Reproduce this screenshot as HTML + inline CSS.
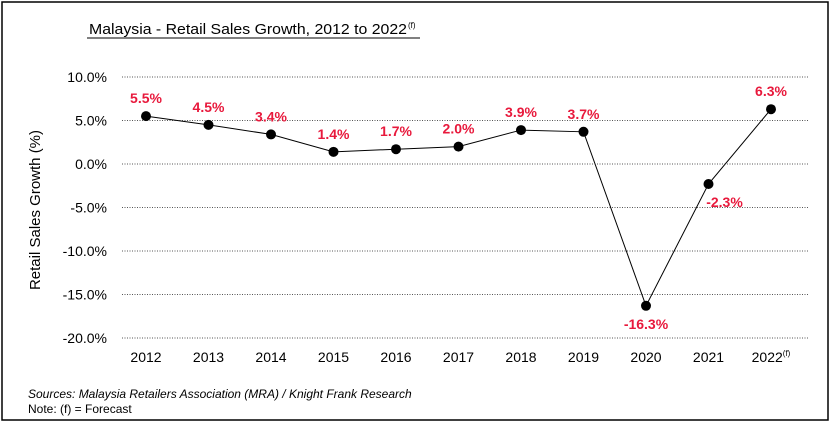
<!DOCTYPE html>
<html><head><meta charset="utf-8"><style>
body{margin:0;background:#fff;}
svg{display:block;font-family:"Liberation Sans",sans-serif;}
</style></head><body>
<svg width="836" height="424">
<rect x="2" y="2" width="826" height="418" fill="#fff" stroke="#000" stroke-width="1.5"/>
<text x="89" y="34" font-size="15" textLength="318" lengthAdjust="spacingAndGlyphs">Malaysia - Retail Sales Growth, 2012 to 2022</text>
<text x="408" y="28" font-size="8">(f)</text>
<line x1="87" y1="38" x2="420" y2="38" stroke="#000" stroke-width="1"/>
<text transform="translate(40 210) rotate(-90)" text-anchor="middle" font-size="15">Retail Sales Growth (%)</text>
<g id="grid"></g><g id="yt"></g><g id="xt"></g><g id="line"></g><g id="pts"></g><g id="lbl"></g>
<text x="28" y="398" font-size="12" font-style="italic">Sources: Malaysia Retailers Association (MRA) / Knight Frank Research</text>
<text x="28" y="413" font-size="12">Note: (f) = Forecast</text>
</svg>
<script>
const categories=["2012","2013","2014","2015","2016","2017","2018","2019","2020","2021","2022"];
const values=[5.5,4.5,3.4,1.4,1.7,2.0,3.9,3.7,-16.3,-2.3,6.3];
const yTicks=[10,5,0,-5,-10,-15,-20];
const ns="http://www.w3.org/2000/svg";
function y(v){return 164-(v)*8.7;}
function x(i){return 146+i*62.5;}
function mk(p,t,a){const e=document.createElementNS(ns,t);for(const k in a)e.setAttribute(k,a[k]);document.getElementById(p).appendChild(e);return e;}
yTicks.forEach(t=>{
 const g=mk('grid','line',{x1:122,x2:808,y1:y(t),y2:y(t),stroke:'#555','stroke-width':1,'stroke-dasharray':'1 1.5'});
 
 
 const l=mk('yt','text',{x:107,y:y(t)+5,'text-anchor':'end','font-size':14});
 l.textContent=t.toFixed(1)+'%';
 
 
});
categories.forEach((c,i)=>{
 const l=mk('xt','text',{x:x(i),y:362,'text-anchor':'middle','font-size':14});
 l.textContent=c;
 if(i==categories.length-1){const s=document.createElementNS(ns,'tspan');s.setAttribute('font-size','8');s.setAttribute('dy','-6');s.textContent='(f)';l.appendChild(s);}
 
 
});
const pl=mk('line','polyline',{points:values.map((v,i)=>x(i)+','+y(v)).join(' '),fill:'none',stroke:'#000','stroke-width':1});


values.forEach((v,i)=>{
 const c=mk('pts','circle',{cx:x(i),cy:y(v),r:5,fill:'#000'});
 
 
 const below=(i==8||i==9);
 const t=mk('lbl','text',{x:x(i)+(i==9?16:0),y:below?y(v)+23:y(v)-13,'text-anchor':'middle','font-size':14,'font-weight':'bold',fill:'#e8193c'});
 t.textContent=v.toFixed(1)+'%';
 
 
});
</script>
</body></html>
